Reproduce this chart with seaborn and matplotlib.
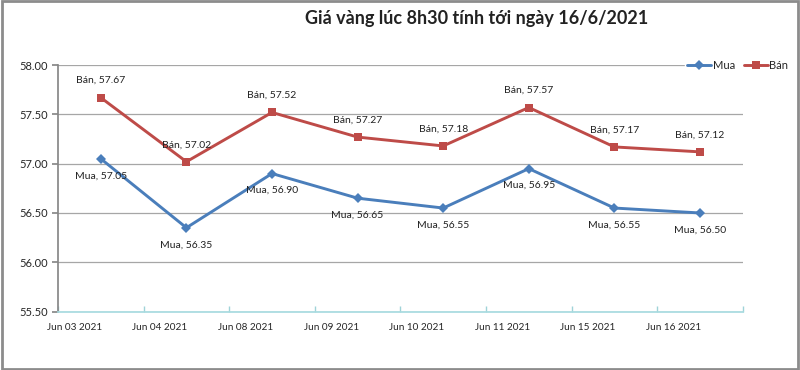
import pandas as pd
import numpy as np
import seaborn as sns
import matplotlib.pyplot as plt
from matplotlib.patches import Rectangle

dates = ["Jun 03 2021", "Jun 04 2021", "Jun 08 2021", "Jun 09 2021",
         "Jun 10 2021", "Jun 11 2021", "Jun 15 2021", "Jun 16 2021"]
mua = [57.05, 56.35, 56.90, 56.65, 56.55, 56.95, 56.55, 56.50]
ban = [57.67, 57.02, 57.52, 57.27, 57.18, 57.57, 57.17, 57.12]
series = ["Mua", "Bán"]
colors = {"Mua": "#4a7ebb", "Bán": "#be4b48"}

sns.set_theme(style="white")
plt.rcParams["font.family"] = ["Lato", "DejaVu Sans"]

# long form table for seaborn
df = pd.DataFrame({
    "pos": list(range(len(dates))) * 2,
    "value": mua + ban,
    "series": ["Mua"] * len(mua) + ["Bán"] * len(ban),
})

fig = plt.figure(figsize=(8, 3.7), dpi=100)
ax = fig.add_axes([0.0725, 0.158, 0.856, 0.666])

sns.lineplot(data=df, x="pos", y="value", hue="series", style="series",
             hue_order=series, style_order=series, palette=colors,
             markers={"Mua": "D", "Bán": "s"}, dashes=False,
             linewidth=2.1, markersize=6, markeredgewidth=0, ax=ax)
# diamonds a bit smaller than the squares
for line in ax.lines:
    if line.get_marker() == "D":
        line.set_markersize(4.8)

# data labels
for name, vals, dy, va in [("Mua", mua, -9, "top"), ("Bán", ban, 9, "bottom")]:
    for i, v in enumerate(vals):
        ax.annotate(f"{name}, {v:.2f}", (i, v), xytext=(0, dy),
                    textcoords="offset points", ha="center", va=va,
                    fontsize=7.5, color="#222222")

ax.set_xlim(-0.5, len(dates) - 0.5)
ax.set_ylim(55.5, 58.0)
ax.set_yticks(np.arange(55.5, 58.01, 0.5))
ax.set_yticklabels([f"{t:.2f}" for t in np.arange(55.5, 58.01, 0.5)])
ax.yaxis.grid(True, color="#a6a6a6", linewidth=0.9)
ax.set_axisbelow(True)

# tick marks on category boundaries, labels shifted like the original
ax.set_xticks(np.arange(-0.5, len(dates)), minor=True)
ax.set_xticks(np.arange(len(dates)) - 0.31)
ax.set_xticklabels(dates)
ax.tick_params(axis="x", which="major", length=0, labelsize=7.2, pad=8)
ax.tick_params(axis="x", which="minor", length=4, direction="in",
               color="#9fd3d8", bottom=True)
ax.tick_params(axis="y", length=4, left=True, color="#888888",
               labelsize=8, pad=3)
ax.set_xlabel("")
ax.set_ylabel("")

for s in ["top", "right"]:
    ax.spines[s].set_visible(False)
ax.spines["left"].set_color("#888888")
ax.spines["bottom"].set_color("#a8dbe0")

handles, labels = ax.get_legend_handles_labels()
ax.legend(handles, labels, loc="center right", bbox_to_anchor=(0.995, 0.824),
          bbox_transform=fig.transFigure, ncol=2, frameon=True,
          facecolor="white", edgecolor="white", fontsize=8,
          handlelength=2.2, handletextpad=0.1, columnspacing=0.8,
          borderpad=0.2, framealpha=1)

fig.text(0.596, 0.951, "Giá vàng lúc 8h30 tính tới ngày 16/6/2021",
         ha="center", va="center", fontsize=13, fontweight="bold",
         color="#222222")

fig.patches.append(Rectangle((0.002, 0.003), 0.996, 0.994, fill=False,
                             edgecolor="#8c8c8c", linewidth=2,
                             transform=fig.transFigure, figure=fig))

fig.savefig("out.png", dpi=100)
